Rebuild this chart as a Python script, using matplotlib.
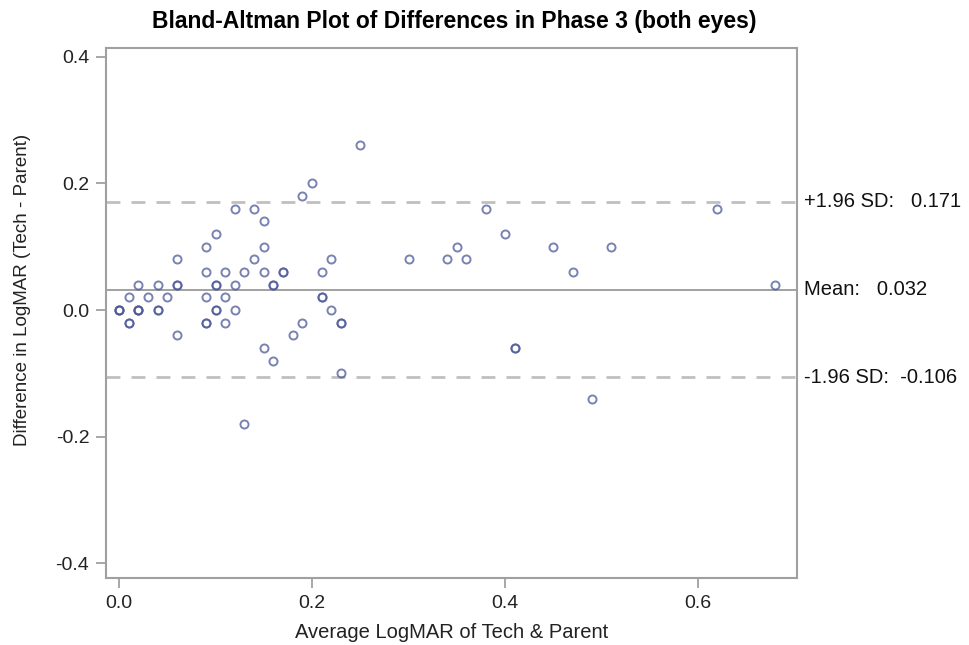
""" Bland-Altman plot of the Tech vs Parent LogMAR differences in phase 3 (both eyes) """

import matplotlib.pyplot as plt

# Average LogMAR of tech & parent, and the difference (tech - parent)
# (repeated pairs are real duplicates, they show up darker on the plot)
avg = [0.00, 0.00, 0.00, 0.01, 0.01, 0.01, 0.02, 0.02, 0.02, 0.02, 0.03,
       0.04, 0.04, 0.04, 0.05, 0.06, 0.06, 0.06, 0.06, 0.09, 0.09, 0.09,
       0.09, 0.09, 0.10, 0.10, 0.10, 0.10, 0.10, 0.11, 0.11, 0.11, 0.12,
       0.12, 0.12, 0.13, 0.13, 0.14, 0.14, 0.15, 0.15, 0.15, 0.15, 0.16,
       0.16, 0.16, 0.17, 0.17, 0.18, 0.19, 0.19, 0.20, 0.21, 0.21, 0.21,
       0.22, 0.22, 0.23, 0.23, 0.23, 0.25, 0.30, 0.34, 0.35, 0.36, 0.38,
       0.40, 0.41, 0.41, 0.45, 0.47, 0.49, 0.51, 0.62, 0.68]
diff = [0.00, 0.00, 0.00, -0.02, -0.02, 0.02, 0.00, 0.00, 0.00, 0.04, 0.02,
        0.00, 0.00, 0.04, 0.02, 0.04, 0.04, 0.08, -0.04, 0.10, 0.06, 0.02,
        -0.02, -0.02, 0.12, 0.04, 0.04, 0.00, 0.00, 0.06, 0.02, -0.02, 0.16,
        0.04, 0.00, 0.06, -0.18, 0.16, 0.08, 0.14, 0.10, 0.06, -0.06, 0.04,
        0.04, -0.08, 0.06, 0.06, -0.04, 0.18, -0.02, 0.20, 0.06, 0.02, 0.02,
        0.08, 0.00, -0.02, -0.02, -0.10, 0.26, 0.08, 0.08, 0.10, 0.08, 0.16,
        0.12, -0.06, -0.06, 0.10, 0.06, -0.14, 0.10, 0.16, 0.04]

# Mean difference and limits of agreement
mean_diff = 0.032
upper_loa = 0.171
lower_loa = -0.106

line_labels = ["+1.96 SD:   0.171", "Mean:   0.032", "-1.96 SD:  -0.106"]

plt.rcParams['font.family'] = ['Liberation Sans', 'DejaVu Sans']

fig = plt.figure(figsize=(9.7, 6.45), dpi=100)
ax = fig.add_axes([0.1093, 0.1039, 0.7123, 0.8217])

# Reference lines for the mean and the limits of agreement
ax.axhline(mean_diff, color="#9a9a9a", linewidth=1.3, zorder=1)
ax.axhline(upper_loa, color="#c0c0c0", linewidth=2, linestyle=(0, (5, 4)), zorder=1)
ax.axhline(lower_loa, color="#c0c0c0", linewidth=2, linestyle=(0, (5, 4)), zorder=1)

# Points as open circles
ax.plot(avg, diff, linestyle="none", marker="o", markersize=5.8,
        markerfacecolor="none", markeredgecolor="#4c5898",
        markeredgewidth=1.4, alpha=0.75, zorder=2)

# Labels for the reference lines, just right of the plot
for yval, txt in zip([upper_loa, mean_diff, lower_loa], line_labels):
    ax.annotate(txt, xy=(1, yval), xycoords=("axes fraction", "data"),
                xytext=(5, 0), textcoords="offset points",
                va="center", ha="left", fontsize=14.5, color="#111111")

ax.set_xlim(-0.0135, 0.7026)
ax.set_ylim(-0.423, 0.4136)
ax.set_xticks([0.0, 0.2, 0.4, 0.6])
ax.set_yticks([-0.4, -0.2, 0.0, 0.2, 0.4])
ax.set_xticklabels(["0.0", "0.2", "0.4", "0.6"])
ax.set_yticklabels(["-0.4", "-0.2", "0.0", "0.2", "0.4"])

for spine in ax.spines.values():
    spine.set_color("#a0a0a0")
    spine.set_linewidth(1.5)
ax.tick_params(direction="out", length=7, width=1.3, color="#a0a0a0",
               labelsize=14, labelcolor="#222222", pad=5)

ax.set_xlabel("Average LogMAR of Tech & Parent", fontsize=14.5,
              color="#222222", labelpad=8)
ax.set_ylabel("Difference in LogMAR (Tech - Parent)", fontsize=13.5,
              color="#222222")
ax.yaxis.set_label_coords(-0.109, 0.543)
fig.text(0.468, 0.967, "Bland-Altman Plot of Differences in Phase 3 (both eyes)",
         ha="center", va="center", fontsize=16.5, fontweight="bold")

fig.savefig("out.png", dpi=100)
